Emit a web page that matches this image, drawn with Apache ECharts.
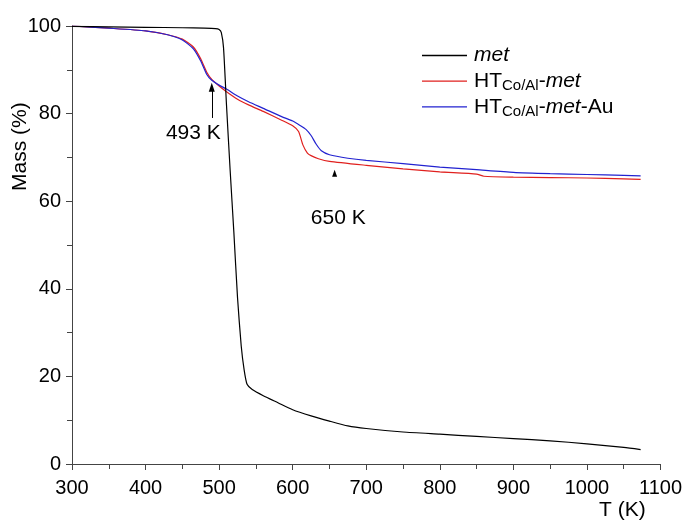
<!DOCTYPE html>
<html>
<head>
<meta charset="utf-8">
<script src="https://cdn.jsdelivr.net/npm/echarts@6/dist/echarts.min.js"></script>
<style>html,body{margin:0;padding:0;background:#fff;}#c{width:685px;height:520px;}</style>
</head>
<body>
<div id="c"></div>
<script>
// ---- data ----
var metT    = [300, 350, 400, 450, 480, 495, 500, 503, 506, 510, 515, 520, 525, 530, 534, 538, 545, 560, 580, 600, 625, 650, 675, 700, 750, 800, 850, 900, 950, 1000, 1050, 1073];
var metMass = [99.9, 99.8, 99.7, 99.6, 99.5, 99.4, 99.2, 98.5, 95, 82, 67, 53, 38, 27, 21.5, 18.2, 17, 15.6, 14, 12.4, 11.0, 9.8, 8.7, 8.1, 7.3, 6.8, 6.3, 5.8, 5.3, 4.6, 3.8, 3.3];

var htT    = [300, 350, 400, 430, 450, 465, 475, 483, 490, 500, 510, 525, 540, 560, 585, 600, 608, 614, 620, 625, 635, 650, 700, 750, 800, 850, 860, 900, 950, 1000, 1050, 1073];
var htMass = [100, 99.5, 98.9, 98.0, 97.0, 95.2, 92.5, 89.5, 87.8, 86.3, 85.0, 83.3, 82.0, 80.5, 78.5, 77.2, 75.9, 72.8, 71.0, 70.4, 69.7, 69.1, 68.2, 67.4, 66.7, 66.2, 65.7, 65.5, 65.4, 65.3, 65.1, 65.0];

var auT    = [300, 350, 400, 430, 450, 465, 475, 483, 490, 500, 510, 525, 540, 560, 585, 600, 610, 618, 625, 632, 639, 650, 675, 700, 750, 800, 850, 900, 950, 1000, 1050, 1073];
var auMass = [100, 99.5, 98.9, 98.0, 96.8, 94.8, 92.0, 89.0, 87.6, 86.5, 85.6, 84.0, 82.7, 81.2, 79.3, 78.3, 77.3, 76.4, 75.0, 73.0, 71.5, 70.6, 69.8, 69.3, 68.6, 67.8, 67.2, 66.6, 66.3, 66.1, 65.9, 65.8];

var seriesNames = ['met', 'HTCoAl-met', 'HTCoAl-met-Au'];
var xTicks = [300, 1100, 100];   // min, max, interval
var yTicks = [0, 100, 20];
var arrow1 = [490, 79, 86];      // T, from, to
var arrow2 = [657, 66.4];
var label1 = ['493 K', 465, 75.6];
var label2 = ['650 K', 662, 56.2];

function pairs(a, b) { return a.map(function (v, i) { return [v, b[i]]; }); }

var FONT = 'Liberation Sans, Arial, sans-serif';
var chart = echarts.init(document.getElementById('c'), null, {renderer: 'canvas'});
var legendText = {
  'met': '{it|met}',
  'HTCoAl-met': '{n|HT}{sub|Co/Al}{n|-}{it|met}',
  'HTCoAl-met-Au': '{n|HT}{sub|Co/Al}{n|-}{it|met}{n|-Au}'
};
chart.setOption({
  animation: false,
  backgroundColor: '#fff',
  grid: {left: 72, right: 20, top: 26, bottom: 56},
  legend: {
    orient: 'vertical', left: 422, top: 43.5, padding: 0,
    itemWidth: 45, itemHeight: 1.3, itemGap: 1.7,
    icon: 'rect',
    data: seriesNames,
    formatter: function (n) { return legendText[n]; },
    textStyle: {
      fontFamily: FONT, fontSize: 21, color: '#000', lineHeight: 24, padding: [0, 0, 0, 2],
      rich: {
        n: {fontFamily: FONT, fontSize: 21, color: '#000', lineHeight: 24},
        it: {fontFamily: FONT, fontSize: 21, fontStyle: 'italic', color: '#000', lineHeight: 24},
        sub: {fontFamily: FONT, fontSize: 15, color: '#000', verticalAlign: 'bottom', lineHeight: 7}
      }
    }
  },
  xAxis: {
    type: 'value', min: xTicks[0], max: xTicks[1], interval: xTicks[2],
    axisLine: {lineStyle: {color: '#444', width: 1}},
    axisTick: {inside: false, length: 6, lineStyle: {color: '#444'}},
    minorTick: {show: true, splitNumber: 2, length: 5, lineStyle: {color: '#444'}},
    splitLine: {show: false},
    axisLabel: {fontFamily: FONT, fontSize: 20, color: '#000', margin: 14,
                formatter: function (v) { return String(v); }}
  },
  yAxis: {
    type: 'value', min: yTicks[0], max: yTicks[1], interval: yTicks[2],
    axisLine: {show: true, lineStyle: {color: '#444', width: 1}},
    axisTick: {show: true, inside: false, length: 6, lineStyle: {color: '#444'}},
    minorTick: {show: true, splitNumber: 2, length: 5, lineStyle: {color: '#444'}},
    splitLine: {show: false},
    axisLabel: {fontFamily: FONT, fontSize: 20, color: '#000', margin: 11,
                formatter: function (v) { return String(v); }}
  },
  graphic: [
    {type: 'text', rotation: Math.PI / 2, x: 10, y: 191,
     style: {text: 'Mass (%)', font: '21px ' + FONT, fill: '#000', textVerticalAlign: 'top'}},
    {type: 'text', left: 599, top: 500, style: {text: 'T (K)', font: '21px ' + FONT, fill: '#000'}}
  ],
  series: [
    {name: seriesNames[0], type: 'line', symbol: 'none', smooth: 0.2, data: pairs(metT, metMass),
     lineStyle: {color: '#000', width: 1.2}, itemStyle: {color: '#000'}, z: 3},
    {name: seriesNames[1], type: 'line', symbol: 'none', smooth: 0.2, data: pairs(htT, htMass),
     lineStyle: {color: '#e0201e', width: 1.2}, itemStyle: {color: '#e0201e'}, z: 2},
    {name: seriesNames[2], type: 'line', symbol: 'none', smooth: 0.2, data: pairs(auT, auMass),
     lineStyle: {color: '#2222d0', width: 1.2}, itemStyle: {color: '#2222d0'}, z: 2,
     markLine: {
       silent: true, symbol: ['none', 'triangle'], symbolSize: [6, 9],
       lineStyle: {color: '#000', width: 1, type: 'solid'}, label: {show: false},
       data: [[{coord: [arrow1[0], arrow1[1]]}, {coord: [arrow1[0], arrow1[2]]}]]
     },
     markPoint: {
       silent: true,
       data: [
         {coord: [arrow2[0], arrow2[1]], symbol: 'triangle', symbolSize: [5, 7], itemStyle: {color: '#000'}, label: {show: false}},
         {coord: [label1[1], label1[2]], symbol: 'circle', symbolSize: 0, value: label1[0],
          label: {show: true, formatter: label1[0], fontFamily: FONT, fontSize: 21, color: '#000', position: 'inside'}},
         {coord: [label2[1], label2[2]], symbol: 'circle', symbolSize: 0, value: label2[0],
          label: {show: true, formatter: label2[0], fontFamily: FONT, fontSize: 21, color: '#000', position: 'inside'}}
       ]
     }}
  ]
});
</script>
</body>
</html>
